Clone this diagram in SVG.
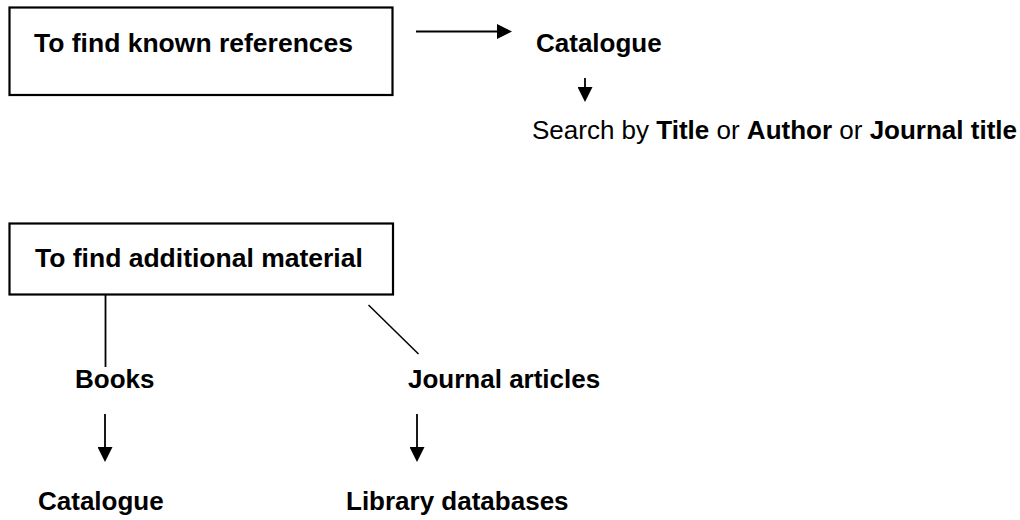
<svg xmlns="http://www.w3.org/2000/svg" width="1020" height="520" viewBox="0 0 1020 520">
  <style>
    text { font-family: "Liberation Sans", Arial, sans-serif; font-size: 26px; fill: #000; }
    .b { font-weight: bold; }
    .box { fill: #fff; stroke: #000; stroke-width: 2.2; }
    .conn { stroke: #000; stroke-width: 1.8; fill: none; }
  </style>
  <defs>
    <marker id="ah" markerUnits="userSpaceOnUse" markerWidth="15" markerHeight="15" refX="10" refY="7.5" orient="auto">
      <path d="M0,0 L15,7.5 L0,15 z" fill="#000"/>
    </marker>
  </defs>
  <rect width="1020" height="520" fill="#fff"/>

  <g id="connectors">
    <line class="conn" x1="416" y1="31.5" x2="507" y2="31.5" marker-end="url(#ah)"/>
    <line class="conn" x1="585" y1="78" x2="585" y2="97" marker-end="url(#ah)"/>
    <line class="conn" x1="105.5" y1="295" x2="105.5" y2="367"/>
    <line class="conn" x1="368.5" y1="305" x2="418.5" y2="354" style="stroke-width:1.5"/>
    <line class="conn" x1="105" y1="414" x2="105" y2="457" marker-end="url(#ah)"/>
    <line class="conn" x1="417" y1="414" x2="417" y2="457" marker-end="url(#ah)"/>
  </g>

  <g id="known-references">
    <rect class="box" x="9.5" y="7.5" width="383" height="87.5"/>
    <text class="b" x="34" y="52" style="font-size:26.5px">To find known references</text>
  </g>

  <g id="catalogue-top">
    <text class="b" x="536" y="52">Catalogue</text>
  </g>

  <g id="search-by">
    <text x="532" y="139">Search by <tspan class="b">Title</tspan> or <tspan class="b">Author</tspan> or <tspan class="b">Journal title</tspan></text>
  </g>

  <g id="additional-material">
    <rect class="box" x="9.5" y="223.5" width="383.5" height="71"/>
    <text class="b" x="35" y="267" style="font-size:26.5px">To find additional material</text>
  </g>

  <g id="books">
    <text class="b" x="75" y="388">Books</text>
  </g>

  <g id="journal-articles">
    <text class="b" x="408" y="388">Journal articles</text>
  </g>

  <g id="catalogue-bottom">
    <text class="b" x="38" y="510">Catalogue</text>
  </g>

  <g id="library-databases">
    <text class="b" x="346" y="510">Library databases</text>
  </g>
</svg>
